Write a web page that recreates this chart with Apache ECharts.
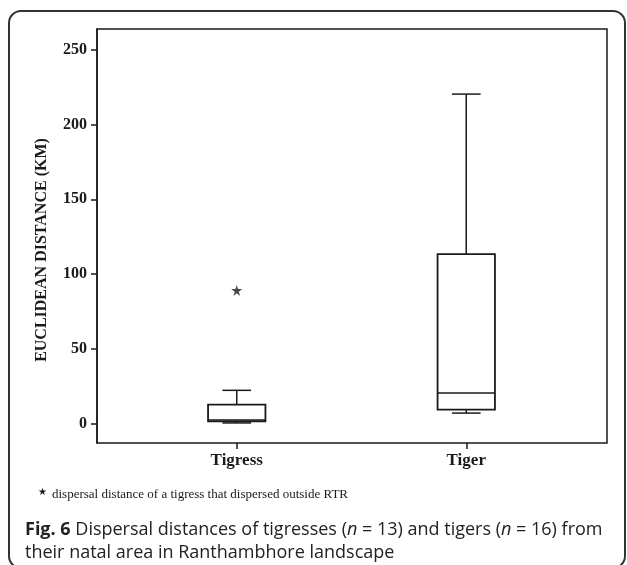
<!DOCTYPE html>
<html>
<head>
<meta charset="utf-8">
<script src="https://cdn.jsdelivr.net/npm/echarts@6/dist/echarts.min.js"></script>
<style>
  html, body { margin: 0; padding: 0; background: #fff; }
  #chart { width: 627px; height: 565px; }
</style>
</head>
<body>
<div id="chart"></div>
<script>
// box plot data (km)
const categories = ['Tigress', 'Tiger'];
const minVals = [0.5, 7.1];
const q1Vals = [1.5, 9.4];
const medianVals = [2.5, 20.5];
const q3Vals = [12.7, 113.4];
const maxVals = [22.3, 220.3];
// starred outlier: tigress that dispersed outside RTR
const outlierCats = ['Tigress'];
const outlierVals = [89.1];
const yTicks = [0, 50, 100, 150, 200, 250];

const serif = '"Liberation Serif", "DejaVu Serif", serif';
const sans = '"Open Sans", "Noto Sans", sans-serif';
const ink = '#1a1a1a';

const chart = echarts.init(document.getElementById('chart'));

const boxData = categories.map((c, i) => [i, minVals[i], q1Vals[i], medianVals[i], q3Vals[i], maxVals[i]]);

function renderBox(params, api) {
  const i = api.value(0);
  const cx = api.coord([i, 0])[0];
  const band = api.size([1, 0])[0];
  const half = band * 0.125;
  const cap = band * 0.0625;
  const y = v => api.coord([i, v])[1];
  const yMin = y(api.value(1)), yQ1 = y(api.value(2)), yMed = y(api.value(3));
  const yQ3 = y(api.value(4)), yMax = y(api.value(5));
  const ls = { stroke: ink, lineWidth: 1.5, fill: null };
  return {
    type: 'group',
    children: [
      { type: 'line', shape: { x1: cx, y1: yQ3, x2: cx, y2: yMax }, style: ls },
      { type: 'line', shape: { x1: cx, y1: yQ1, x2: cx, y2: yMin }, style: ls },
      { type: 'line', shape: { x1: cx - cap, y1: yMax, x2: cx + cap, y2: yMax }, style: ls },
      { type: 'line', shape: { x1: cx - cap, y1: yMin, x2: cx + cap, y2: yMin }, style: ls },
      { type: 'rect', shape: { x: cx - half, y: yQ3, width: half * 2, height: yQ1 - yQ3 },
        style: { stroke: ink, lineWidth: 1.8, fill: '#fff' } },
      { type: 'line', shape: { x1: cx - half, y1: yMed, x2: cx + half, y2: yMed }, style: ls }
    ]
  };
}

const starPath = 'path://M50,0 L61,35 L98,35 L68,57 L79,92 L50,70 L21,92 L32,57 L2,35 L39,35 Z';

const option = {
  animation: false,
  grid: [
    { left: 97, right: 20, top: 29, bottom: 122, show: true, borderColor: ink, borderWidth: 1.5 },
    { left: 122, right: 46, top: 29, bottom: 122 }
  ],
  xAxis: [
    { gridIndex: 0, type: 'value', show: false, min: 0, max: 1 },
    {
      gridIndex: 1, type: 'category', data: categories, position: 'bottom',
      axisLine: { show: false, onZero: false },
      axisTick: { show: true, alignWithLabel: true, length: 6, lineStyle: { color: ink, width: 1.5 } },
      axisLabel: { color: ink, fontFamily: serif, fontWeight: 'bold', fontSize: 17, margin: 9 },
      splitLine: { show: false }
    }
  ],
  yAxis: [
    {
      gridIndex: 0, type: 'value', min: -12.9, max: 263.8,
      axisLine: { show: true, lineStyle: { color: ink, width: 1.5 } },
      axisTick: { show: true, length: 6, customValues: yTicks, lineStyle: { color: ink, width: 1.5 } },
      axisLabel: { color: ink, fontFamily: serif, fontWeight: 'bold', fontSize: 16, margin: 10, customValues: yTicks },
      splitLine: { show: false }
    },
    { gridIndex: 1, type: 'value', min: -12.9, max: 263.8, show: false }
  ],
  series: [
    {
      type: 'custom', xAxisIndex: 1, yAxisIndex: 1,
      renderItem: renderBox, data: boxData, silent: true
    },
    {
      type: 'scatter', xAxisIndex: 1, yAxisIndex: 1,
      symbol: starPath, symbolSize: 11, itemStyle: { color: ink }, silent: true,
      data: outlierCats.map((c, i) => [c, outlierVals[i]])
    }
  ],
  graphic: [
    { type: 'rect', shape: { x: 9, y: 11, width: 616, height: 557, r: 12 },
      style: { fill: null, stroke: '#333', lineWidth: 2 }, silent: true },
    { type: 'text', x: 42, y: 250, rotation: Math.PI / 2,
      style: { text: 'EUCLIDEAN DISTANCE (KM)', fontFamily: serif, fontWeight: 'bold', fontSize: 16,
        fill: ink, align: 'center', verticalAlign: 'middle' } },
    { type: 'text', x: 38, y: 492,
      style: { text: '★', fontSize: 10, fill: ink, verticalAlign: 'middle' } },
    { type: 'text', x: 52, y: 495,
      style: { text: 'dispersal distance of a tigress that dispersed outside RTR', fontFamily: serif,
        fontSize: 13, fill: ink, verticalAlign: 'middle' } },
    { type: 'text', x: 25, y: 518,
      style: {
        text: '{b|Fig. 6} Dispersal distances of tigresses ({i|n} = 13) and tigers ({i|n} = 16) from\ntheir natal area in Ranthambhore landscape',
        fontFamily: sans, fontSize: 18, lineHeight: 23, fill: '#222',
        rich: {
          b: { fontFamily: sans, fontWeight: 'bold', fontSize: 18, fill: '#222' },
          i: { fontFamily: sans, fontStyle: 'italic', fontSize: 18, fill: '#222' }
        }
      } }
  ]
};

chart.setOption(option);
</script>
</body>
</html>
